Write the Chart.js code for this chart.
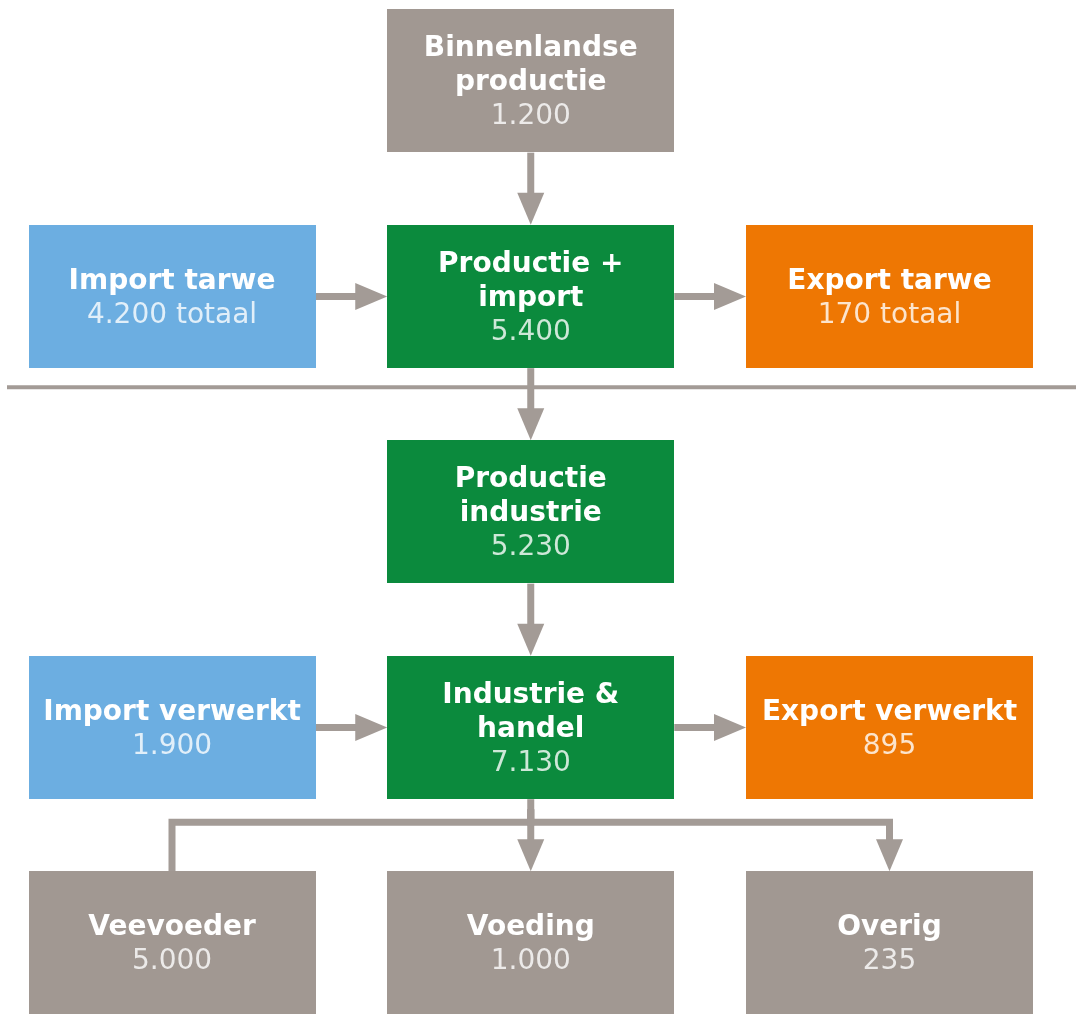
<!DOCTYPE html>
<html>
<head>
<meta charset="utf-8">
<script src="https://cdn.jsdelivr.net/npm/chart.js@4/dist/chart.umd.min.js"></script>
<style>
  html, body { margin: 0; padding: 0; background: #ffffff; }
  canvas { display: block; }
</style>
</head>
<body>
<canvas id="c" width="1076" height="1015"></canvas>
<script>
// ---- data ----
const nodeLabels = ["Binnenlandse\nproductie", "Import tarwe", "Productie +\nimport", "Export tarwe",
                    "Productie\nindustrie", "Import verwerkt", "Industrie &\nhandel", "Export verwerkt",
                    "Veevoeder", "Voeding", "Overig"];
const nodeValues = [1200, 4200, 5400, 170, 5230, 1900, 7130, 895, 5000, 1000, 235];
const valueSuffix = ["", "totaal", "", "totaal", "", "", "", "", "", "", ""];
const nodeKinds = ["bron", "import", "keten", "export", "keten", "import", "keten", "export", "gebruik", "gebruik", "gebruik"];
const nodeCols = [1, 0, 1, 2, 1, 0, 1, 2, 0, 1, 2];
const nodeRows = [0, 1, 1, 1, 2, 3, 3, 3, 4, 4, 4];
const edgeFrom = [0, 1, 2, 2, 4, 5, 6, 6, 6, 6];
const edgeTo   = [2, 2, 3, 4, 6, 6, 7, 8, 9, 10];
const edgeNoHead = [false, false, false, false, false, false, false, true, false, false];

// ---- styles ----
const kindColors = { bron: "#a19892", import: "#6caee1", keten: "#0b8a3d", export: "#ee7703", gebruik: "#a19892" };
const lineColor = "#a39b96";
const FONT = "'DejaVu Sans', Verdana, sans-serif";

function fmt(n) {
  const s = String(Math.round(n));
  return s.replace(/\B(?=(\d{3})+(?!\d))/g, ".");
}

const flowPlugin = {
  id: "flow",
  afterDatasetsDraw(chart) {
    const ctx = chart.ctx;
    const xs = chart.scales.x, ys = chart.scales.y;
    const colW = Math.abs(xs.getPixelForValue(1) - xs.getPixelForValue(0));
    const rowH = Math.abs(ys.getPixelForValue(1) - ys.getPixelForValue(0));
    const bw = colW * 0.8, bh = rowH * 0.665;
    const cx = i => xs.getPixelForValue(nodeCols[i]);
    const cy = i => ys.getPixelForValue(nodeRows[i]);
    ctx.save();

    // separator line between raw material and processing
    const sepY = ys.getPixelForValue(1) + bh / 2 + 19;
    ctx.strokeStyle = lineColor;
    ctx.lineWidth = 4;
    ctx.beginPath();
    ctx.moveTo(7, sepY);
    ctx.lineTo(chart.width, sepY);
    ctx.stroke();

    // edges
    const lw = 7, headL = 32, headW = 27;
    function head(tx, ty, dx, dy) {
      ctx.beginPath();
      ctx.moveTo(tx, ty);
      ctx.lineTo(tx - dx * headL - dy * headW / 2, ty - dy * headL + dx * headW / 2);
      ctx.lineTo(tx - dx * headL + dy * headW / 2, ty - dy * headL - dx * headW / 2);
      ctx.closePath();
      ctx.fill();
    }
    ctx.fillStyle = lineColor;
    ctx.strokeStyle = lineColor;
    ctx.lineWidth = lw;
    ctx.lineCap = "butt";
    ctx.lineJoin = "miter";
    for (let k = 0; k < edgeFrom.length; k++) {
      const a = edgeFrom[k], b = edgeTo[k];
      const hasHead = !edgeNoHead[k];
      const ax = cx(a), ay = cy(a), bx = cx(b), by = cy(b);
      if (nodeRows[a] === nodeRows[b]) {
        const dir = bx > ax ? 1 : -1;
        const x0 = ax + dir * bw / 2, x1 = bx - dir * bw / 2;
        const xe = hasHead ? x1 - dir * headL : x1;
        ctx.beginPath(); ctx.moveTo(x0, ay); ctx.lineTo(xe + dir * 1, ay); ctx.stroke();
        if (hasHead) head(x1, ay, dir, 0);
      } else if (nodeCols[a] === nodeCols[b]) {
        const y0 = ay + bh / 2, y1 = by - bh / 2;
        const ye = hasHead ? y1 - headL : y1;
        ctx.beginPath(); ctx.moveTo(ax, y0); ctx.lineTo(ax, ye + 1); ctx.stroke();
        if (hasHead) head(ax, y1, 0, 1);
      } else {
        const y0 = ay + bh / 2, y1 = by - bh / 2;
        const ey = y0 + 23;
        const ye = hasHead ? y1 - headL : y1;
        ctx.beginPath();
        ctx.moveTo(ax, y0 + 10);
        ctx.lineTo(ax, ey);
        ctx.lineTo(bx, ey);
        ctx.lineTo(bx, ye + 1);
        ctx.stroke();
        if (hasHead) head(bx, y1, 0, 1);
      }
    }

    // boxes
    ctx.textAlign = "center";
    ctx.textBaseline = "middle";
    const lineH = 34;
    for (let i = 0; i < nodeLabels.length; i++) {
      const x = cx(i), y = cy(i);
      ctx.fillStyle = kindColors[nodeKinds[i]];
      ctx.fillRect(Math.round(x - bw / 2), Math.round(y - bh / 2), Math.round(bw), Math.round(bh));
      const titleLines = nodeLabels[i].split("\n");
      const valText = fmt(nodeValues[i]) + (valueSuffix[i] ? " " + valueSuffix[i] : "");
      const n = titleLines.length + 1;
      let ty = y - (n - 1) * lineH / 2;
      ctx.font = "bold 28px " + FONT;
      ctx.fillStyle = "#ffffff";
      for (const t of titleLines) { ctx.fillText(t, x, ty + 2); ty += lineH; }
      ctx.font = "28px " + FONT;
      ctx.fillStyle = "rgba(255,255,255,0.8)";
      ctx.fillText(valText, x, ty + 2);
    }
    ctx.restore();
  }
};

new Chart(document.getElementById("c"), {
  type: "scatter",
  data: {
    datasets: [{
      data: nodeValues.map((v, i) => ({ x: nodeCols[i], y: nodeRows[i] })),
      pointRadius: 0,
      pointHoverRadius: 0
    }]
  },
  options: {
    responsive: false,
    animation: false,
    events: [],
    layout: { padding: 0 },
    plugins: { legend: { display: false }, tooltip: { enabled: false }, title: { display: false } },
    scales: {
      x: { type: "linear", display: false, min: -172 / 358.75, max: (1076 - 172) / 358.75 },
      y: { type: "linear", display: false, reverse: true, min: -81 / 215.5, max: (1015 - 81) / 215.5 }
    }
  },
  plugins: [flowPlugin]
});
</script>
</body>
</html>
